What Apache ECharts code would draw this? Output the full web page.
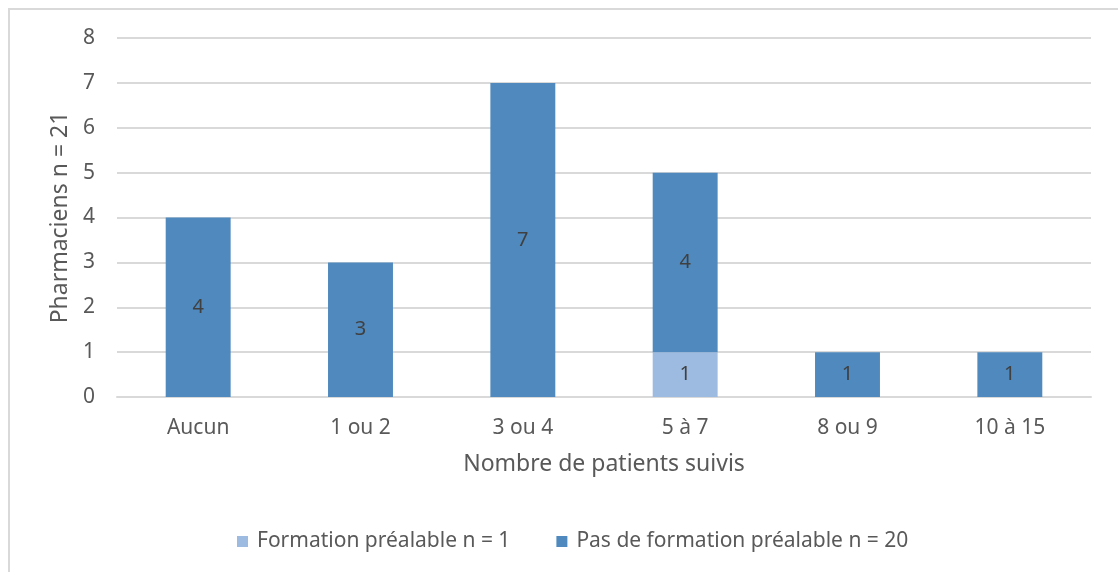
<!DOCTYPE html>
<html>
<head>
<meta charset="utf-8">
<script src="https://cdn.jsdelivr.net/npm/echarts@6/dist/echarts.min.js"></script>
<style>
  html, body { margin: 0; padding: 0; background: #fff; overflow: hidden; }
  #frame { position: absolute; left: 8px; top: 8px; width: 1200px; height: 700px; border: 2px solid #d9d9d9; box-sizing: border-box; }
  #chart { position: absolute; left: 0; top: 0; width: 1118px; height: 572px; }
</style>
</head>
<body>
<div id="frame"></div>
<div id="chart"></div>
<script>
  // categories and values
  const categories = ['Aucun', '1 ou 2', '3 ou 4', '5 à 7', '8 ou 9', '10 à 15'];
  const formation = [0, 0, 0, 1, 0, 0];
  const pasFormation = [4, 3, 7, 4, 1, 1];
  const seriesNames = ['Formation préalable n = 1', 'Pas de formation préalable n = 20'];

  const font = 'Noto Sans, sans-serif';
  const grey = '#595959';

  function segLabel() {
    return {
      show: true,
      position: 'inside',
      color: '#404040',
      fontSize: 20,
      fontFamily: font,
      formatter: p => (p.value ? String(p.value) : '')
    };
  }

  let myChart = echarts.init(document.getElementById('chart'));
  myChart.setOption({
    animation: false,
    grid: { left: 117, right: 27, top: 38, bottom: 175 },
    legend: {
      data: seriesNames,
      left: 232,
      top: 526,
      itemWidth: 11,
      itemHeight: 11,
      itemGap: 46,
      icon: 'rect',
      textStyle: { color: grey, fontSize: 21, fontFamily: font, padding: [0, 0, 0, 4] }
    },
    xAxis: {
      type: 'category',
      data: categories,
      name: 'Nombre de patients suivis',
      nameLocation: 'middle',
      nameGap: 56,
      nameTextStyle: { color: grey, fontSize: 23, fontFamily: font },
      axisLine: { lineStyle: { color: '#d9d9d9', width: 2 } },
      axisTick: { show: false },
      axisLabel: { color: grey, fontSize: 21, fontFamily: font, margin: 21 }
    },
    yAxis: {
      type: 'value',
      min: 0,
      max: 8,
      interval: 1,
      name: 'Pharmaciens n = 21',
      nameLocation: 'middle',
      nameGap: 43,
      nameTextStyle: { color: grey, fontSize: 23, fontFamily: font },
      axisLine: { show: false },
      axisTick: { show: false },
      splitLine: { lineStyle: { color: '#d9d9d9', width: 2 } },
      axisLabel: { color: grey, fontSize: 21, fontFamily: font, margin: 22 }
    },
    series: [{
      name: seriesNames[0],
      type: 'bar',
      stack: 'a',
      barWidth: '40%',
      data: formation,
      itemStyle: { color: '#9dbbe0' },
      label: segLabel()
    }, {
      name: seriesNames[1],
      type: 'bar',
      stack: 'a',
      barWidth: '40%',
      data: pasFormation,
      itemStyle: { color: '#4f89bd' },
      label: segLabel()
    }]
  });
</script>
</body>
</html>
